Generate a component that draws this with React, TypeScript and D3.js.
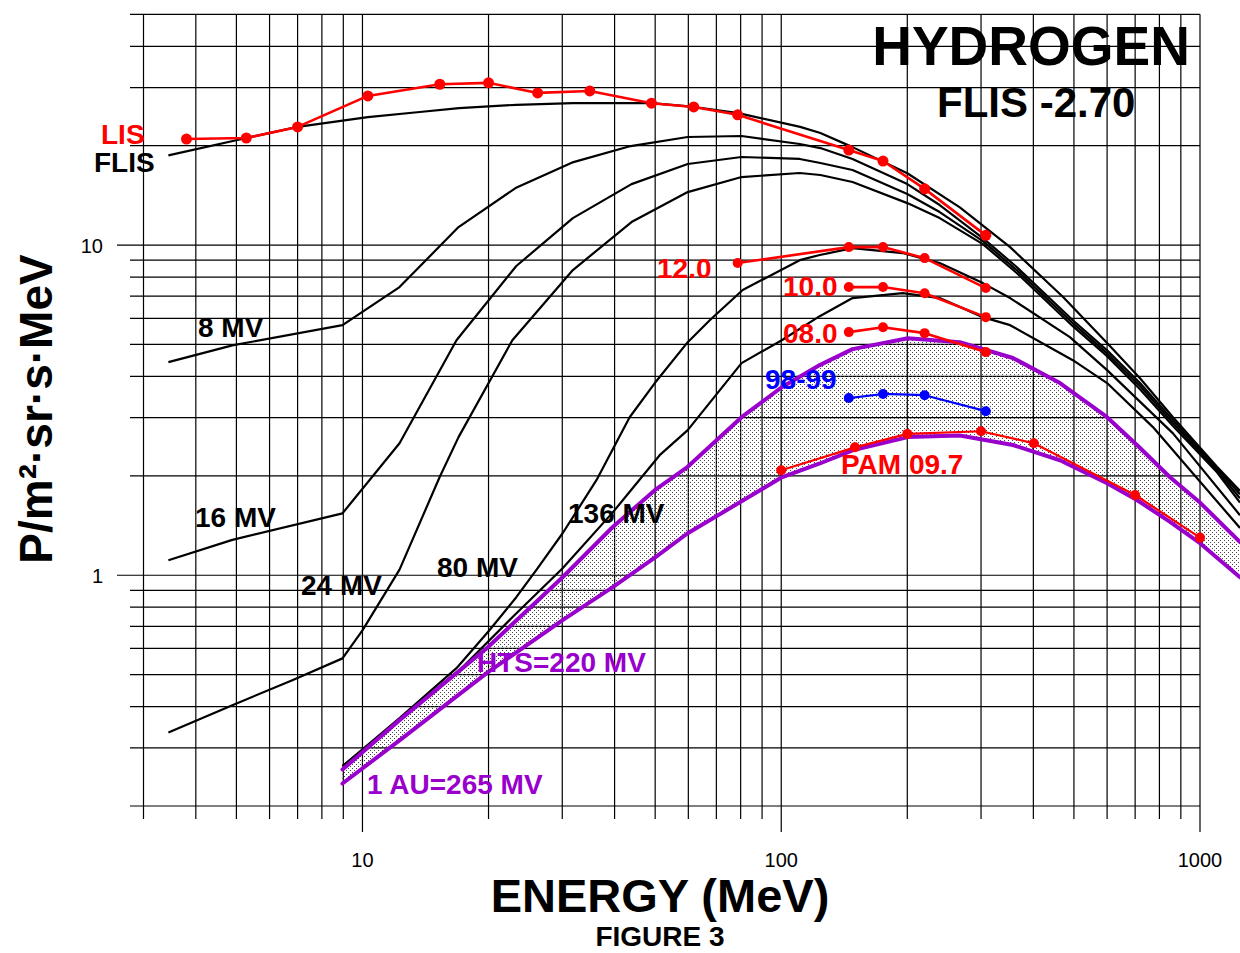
import React from 'react';
import * as d3 from 'd3';

const W = 1240;
const H = 953;
const FONT = "'Liberation Sans', Arial, Helvetica, sans-serif";
const PURPLE = '#9900cc';

// ---- axis ticks ----
const xMinorTicks = [3, 4, 5, 6, 7, 8, 9, 20, 30, 40, 50, 60, 70, 80, 90, 200, 300, 400, 500, 600, 700, 800, 900];
const xMajorTicks = [10, 100, 1000];
const xTickLabels = ['10', '100', '1000'];
const yMinorTicks = [0.2, 0.3, 0.4, 0.5, 0.6, 0.7, 0.8, 0.9, 2, 3, 4, 5, 6, 7, 8, 9, 20, 30, 40, 50];
const yMajorTicks = [1, 10];
const yTickLabels = ['1', '10'];

// ---- modulated spectra (black) ----
const flisE = [3.44, 5.28, 7.0, 10.3, 13.7, 17.0, 23.3, 31.8, 49, 62, 79, 111, 124, 148, 200, 267, 352, 471, 600, 719, 862, 1098, 1246];
const flisF = [18.7, 21.1, 22.8, 24.4, 25.3, 26.0, 26.6, 26.9, 26.9, 26.2, 25.1, 22.8, 21.85, 19.8, 16.5, 13.0, 9.86, 6.96, 5.05, 3.95, 3.01, 2.13, 1.8];

const mv8E = [3.44, 4.89, 8.96, 12.26, 16.96, 23.2, 31.9, 43.7, 59.8, 80.4, 110.7, 124, 148, 200, 239, 303, 365, 497, 600, 719, 862, 1098, 1246];
const mv8F = [4.42, 4.97, 5.72, 7.46, 11.34, 14.88, 17.84, 19.95, 21.25, 21.4, 20.24, 19.67, 18.23, 15.3, 13.22, 10.5, 8.58, 5.92, 4.8, 3.82, 2.95, 2.11, 1.76];

const mv16E = [3.44, 4.89, 8.96, 12.26, 16.77, 23.3, 31.8, 43.9, 59.8, 80.4, 110.7, 124, 148, 200, 239, 303, 365, 497, 600, 719, 862, 1098, 1246];
const mv16F = [1.11, 1.28, 1.54, 2.51, 5.15, 8.64, 12.07, 15.3, 17.6, 18.48, 18.23, 17.72, 16.88, 14.27, 12.59, 10.28, 8.4, 5.8, 4.7, 3.74, 2.89, 2.08, 1.71];

const mv24E = [3.44, 4.89, 6.8, 8.96, 10, 12.26, 15.28, 16.96, 22.8, 31.8, 43.9, 59.8, 80.4, 110.7, 124, 148, 200, 239, 303, 365, 497, 600, 719, 862, 1098, 1246];
const mv24F = [0.334, 0.404, 0.481, 0.56, 0.681, 1.04, 1.98, 2.62, 5.15, 8.4, 11.74, 14.47, 16.07, 16.53, 16.3, 15.52, 13.4, 12.07, 10.07, 8.23, 5.68, 4.61, 3.66, 2.83, 2.05, 1.66];

const mv80E = [8.96, 12.26, 16.77, 20.1, 23.3, 26.05, 30.06, 36.2, 43.45, 49.9, 59.8, 67.5, 80.9, 110.7, 123.6, 148, 195, 239, 303, 352, 489, 600, 862, 1246];
const mv80F = [0.264, 0.369, 0.523, 0.681, 0.858, 1.04, 1.34, 1.94, 3.01, 3.82, 5.08, 5.92, 7.31, 9.0, 9.33, 9.79, 9.46, 8.82, 7.67, 6.91, 5.26, 4.18, 2.69, 1.52];

const mv136E = [8.96, 12.26, 17.24, 22.8, 30.06, 39.6, 51.25, 59.8, 80.4, 100.3, 123.6, 148, 195, 239, 303, 352, 497, 600, 772, 1246];
const mv136F = [0.264, 0.364, 0.523, 0.746, 1.05, 1.55, 2.31, 2.75, 4.39, 5.15, 6.09, 6.91, 7.15, 6.91, 6.05, 5.72, 4.48, 3.82, 2.81, 1.39];

// ---- band: HTS=220 MV (upper) and 1 AU=265 MV (lower) ----
const bandE = [8.96, 12.26, 19.8, 30.06, 39.6, 49.9, 59.8, 80.4, 100.3, 123.6, 148, 200.6, 267, 357.5, 463, 600, 707, 848, 1000, 1246];
const htsF = [0.258, 0.364, 0.601, 0.986, 1.4, 1.81, 2.13, 3.01, 3.71, 4.33, 4.84, 5.22, 5.08, 4.55, 3.82, 3.01, 2.48, 1.98, 1.66, 1.26];
const au1F = [0.234, 0.316, 0.505, 0.731, 0.92, 1.13, 1.34, 1.675, 1.98, 2.18, 2.39, 2.62, 2.65, 2.48, 2.23, 1.9, 1.69, 1.45, 1.25, 0.986];

// ---- measured data ----
const lisE = [3.8, 5.28, 7.0, 10.3, 15.3, 20.0, 26.2, 34.9, 49.0, 61.8, 78.7, 145, 175, 220, 308];
const lisF = [20.95, 21.1, 22.8, 28.3, 30.7, 31.0, 28.9, 29.3, 26.9, 26.2, 24.8, 19.4, 17.97, 14.8, 10.7];
const d12E = [78.7, 145, 175, 220, 308];
const d12F = [8.82, 9.86, 9.86, 9.13, 7.41];
const d10E = [145, 175, 220, 308];
const d10F = [7.46, 7.46, 7.15, 6.05];
const d08E = [145, 175, 220, 308];
const d08F = [5.45, 5.64, 5.41, 4.74];
const d98E = [145, 175, 220, 308];
const d98F = [3.44, 3.54, 3.51, 3.14];
const pamE = [100, 150, 200, 300, 401, 700, 1000];
const pamF = [2.08, 2.44, 2.68, 2.73, 2.51, 1.75, 1.3];

const zip = (e: number[], f: number[]) => e.map((v, i) => [v, f[i]] as [number, number]);

export default function App() {
  const x = d3.scaleLog().domain([3, 1000]).range([143.5, 1200]);
  const y = d3.scaleLog().domain([0.2, 50]).range([806, 14.3]);
  const yTop = y(50);
  const line = d3.line<[number, number]>().x(d => x(d[0])).y(d => y(d[1]));
  const band = d3
    .area<number>()
    .x(d => x(d))
    .y0((d, i) => y(au1F[i]))
    .y1((d, i) => y(htsF[i]));

  const blackCurves = [
    zip(flisE, flisF),
    zip(mv8E, mv8F),
    zip(mv16E, mv16F),
    zip(mv24E, mv24F),
    zip(mv80E, mv80F),
    zip(mv136E, mv136F),
  ];

  const dataSeries = [
    { pts: zip(lisE, lisF), color: '#ff0000', w: 2.6, r: 5.5 },
    { pts: zip(d12E, d12F), color: '#ff0000', w: 2.6, r: 5 },
    { pts: zip(d10E, d10F), color: '#ff0000', w: 2.6, r: 5 },
    { pts: zip(d08E, d08F), color: '#ff0000', w: 2.6, r: 5 },
    { pts: zip(d98E, d98F), color: '#0000ff', w: 2.2, r: 5 },
    { pts: zip(pamE, pamF), color: '#ff0000', w: 2.2, r: 5 },
  ];

  const labels = [
    { t: 'LIS', x: 101, y: 144, c: '#ff0000' },
    { t: 'FLIS', x: 94, y: 172, c: '#000' },
    { t: '8 MV', x: 198, y: 337, c: '#000' },
    { t: '16 MV', x: 195, y: 527, c: '#000' },
    { t: '24 MV', x: 301, y: 595, c: '#000' },
    { t: '80 MV', x: 437, y: 577, c: '#000' },
    { t: '136 MV', x: 568, y: 523, c: '#000' },
    { t: 'HTS=220 MV', x: 477, y: 672, c: PURPLE },
    { t: '1 AU=265 MV', x: 367, y: 794, c: PURPLE },
    { t: '12.0', x: 657, y: 278, c: '#ff0000' },
    { t: '10.0', x: 783, y: 296, c: '#ff0000' },
    { t: '08.0', x: 783, y: 343, c: '#ff0000' },
    { t: '98-99', x: 765, y: 389, c: '#0000ff' },
    { t: 'PAM 09.7', x: 841, y: 474, c: '#ff0000' },
  ];

  return (
    <svg
      width={W}
      height={H}
      style={{ position: 'absolute', left: 0, top: 0, display: 'block', background: '#fff' }}
      fontFamily={FONT}
    >
      <defs>
        <pattern id="stip" width="4" height="4" patternUnits="userSpaceOnUse">
          <rect x="0" y="0" width="1" height="1" fill="#444" />
          <rect x="2" y="2" width="1" height="1" fill="#444" />
        </pattern>
      </defs>
      <rect width={W} height={H} fill="#fff" />

      {/* grid */}
      <g stroke="#000" strokeWidth={1.2}>
        {xMinorTicks.map(v => (
          <line key={'xm' + v} x1={x(v)} x2={x(v)} y1={yTop} y2={819} />
        ))}
        {xMajorTicks.map(v => (
          <line key={'xM' + v} x1={x(v)} x2={x(v)} y1={yTop} y2={832} />
        ))}
        {yMinorTicks.map(v => (
          <line key={'ym' + v} x1={130} x2={1200} y1={y(v)} y2={y(v)} />
        ))}
        {yMajorTicks.map(v => (
          <line key={'yM' + v} x1={117} x2={1200} y1={y(v)} y2={y(v)} />
        ))}
      </g>

      {/* tick labels */}
      <g fontSize={20} fill="#000">
        {xMajorTicks.map((v, i) => (
          <text key={'xl' + v} x={x(v)} y={867} textAnchor="middle">
            {xTickLabels[i]}
          </text>
        ))}
        {yMajorTicks.map((v, i) => (
          <text key={'yl' + v} x={103} y={y(v) + 7.5} textAnchor="end">
            {yTickLabels[i]}
          </text>
        ))}
      </g>

      {/* band */}
      <path d={band(bandE) || ''} fill="url(#stip)" stroke="none" />

      {/* black modulated curves */}
      <g fill="none" stroke="#000" strokeWidth={2.2} strokeLinejoin="round">
        {blackCurves.map((c, i) => (
          <path key={'bc' + i} d={line(c) || ''} />
        ))}
      </g>

      {/* purple band edges */}
      <g fill="none" stroke={PURPLE} strokeWidth={4} strokeLinejoin="round" strokeLinecap="round">
        <path d={line(zip(bandE, htsF)) || ''} />
        <path d={line(zip(bandE, au1F)) || ''} />
      </g>

      {/* data series */}
      {dataSeries.map((s, i) => (
        <g key={'ds' + i}>
          <path d={line(s.pts) || ''} fill="none" stroke={s.color} strokeWidth={s.w} strokeLinejoin="round" />
          {s.pts.map((p, j) => (
            <circle key={j} cx={x(p[0])} cy={y(p[1])} r={s.r} fill={s.color} />
          ))}
        </g>
      ))}

      {/* curve labels */}
      <g fontSize={28} fontWeight="bold">
        {labels.map(l => (
          <text key={l.t} x={l.x} y={l.y} fill={l.c}>
            {l.t}
          </text>
        ))}
      </g>

      {/* titles */}
      <text x={1190} y={65} textAnchor="end" fontSize={55} fontWeight="bold" fill="#000">
        HYDROGEN
      </text>
      <text x={937} y={117} fontSize={42} fontWeight="bold" fill="#000">
        FLIS -2.70
      </text>
      <text x={660} y={912} textAnchor="middle" fontSize={47} fontWeight="bold" fill="#000">
        ENERGY (MeV)
      </text>
      <text x={660} y={946} textAnchor="middle" fontSize={28} fontWeight="bold" fill="#000">
        FIGURE 3
      </text>
      <text
        transform="translate(52,409) rotate(-90)"
        textAnchor="middle"
        fontSize={46}
        fontWeight="bold"
        fill="#000"
      >
        P/m²·sr·s·MeV
      </text>
    </svg>
  );
}
